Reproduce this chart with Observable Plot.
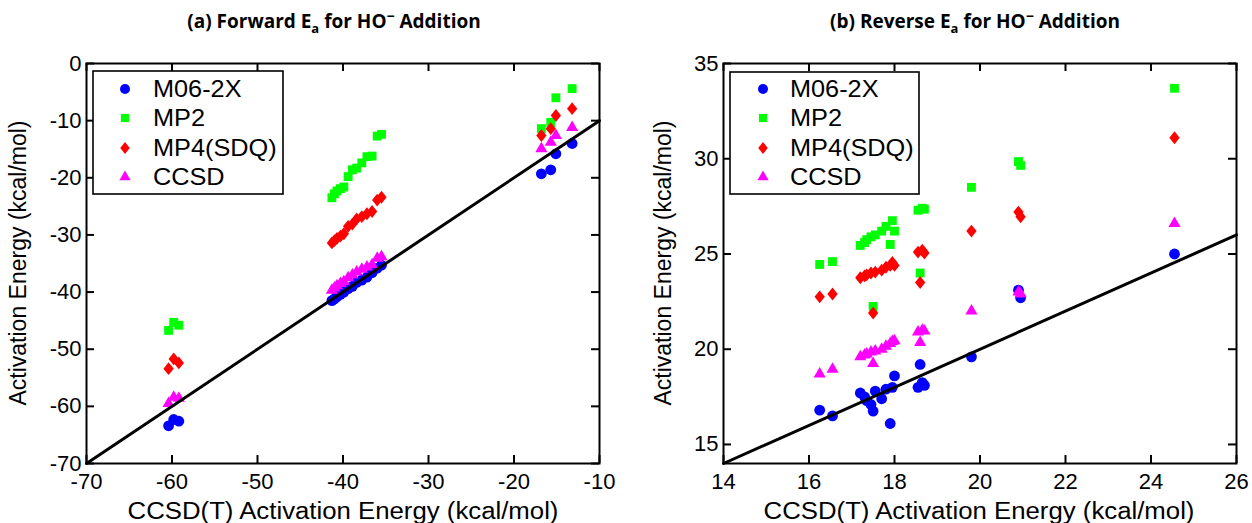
<!DOCTYPE html>
<html><head><meta charset="utf-8">
<script src="https://cdn.jsdelivr.net/npm/d3@7"></script>
<script src="https://cdn.jsdelivr.net/npm/@observablehq/plot@0.6"></script>
<style>
body{margin:0;background:#fff;}
#wrap{position:relative;width:1252px;height:523px;overflow:hidden;background:#fff;}
.panel{position:absolute;top:0;}
.title{position:absolute;top:12px;font-family:"Open Sans",sans-serif;font-weight:bold;font-size:19px;white-space:nowrap;transform:translateX(-50%);color:#000;line-height:1;}
.title sub{font-size:13px;vertical-align:-5px;line-height:0;}
.title sup{font-size:14px;vertical-align:7px;line-height:0;}
.axt{position:absolute;font-family:"Liberation Sans",Arial,sans-serif;font-size:23px;white-space:nowrap;color:#000;line-height:1;}
</style></head><body><div id="wrap"></div><script>
// ---------- data ----------
const methods = ["M06-2X", "MP2", "MP4(SDQ)", "CCSD"];
const colors = ["#0000ff", "#00ff00", "#ff0000", "#ff00ff"];

// (a) Forward Ea
const fwdX    = [-60.4,-59.8,-59.2, -41.3,-41.0,-40.7,-40.3,-39.9,-39.4,-38.9,-38.4,-37.8,-37.2,-36.6,-36.0,-35.5, -16.8,-15.7,-15.1,-13.2];
const fwdM06  = [-63.4,-62.3,-62.6, -41.5,-41.2,-40.8,-40.4,-40.0,-39.4,-39.0,-38.3,-37.9,-37.4,-36.6,-35.8,-35.3, -19.3,-18.6,-15.8,-14.0];
const fwdMP2  = [-46.7,-45.3,-45.8, -23.5,-22.8,-22.3,-21.9,-21.6,-19.8,-18.6,-18.3,-17.4,-16.3,-16.2,-12.7,-12.4, -11.4,-10.3,-6.0,-4.4];
const fwdMP4  = [-53.4,-51.7,-52.4, -31.4,-31.0,-30.6,-30.2,-29.8,-28.5,-28.1,-27.2,-26.8,-26.3,-25.9,-23.9,-23.4, -12.6,-11.4,-9.1,-7.9];
const fwdCCSD = [-59.5,-58.4,-58.6, -39.7,-39.3,-38.9,-38.5,-38.2,-37.5,-37.0,-36.5,-36.0,-35.6,-35.2,-34.1,-33.8, -14.9,-13.8,-12.6,-11.2];
const fwdTicksX = [-70,-60,-50,-40,-30,-20,-10];
const fwdTicksY = [-70,-60,-50,-40,-30,-20,-10,0];

// (b) Reverse Ea
const revX    = [16.25,16.55,17.2,17.3,17.35,17.45,17.5,17.55,17.7,17.8,17.9,17.95,18.0,18.55,18.6,18.65,18.7,19.8,20.9,20.95,24.55];
const revM06  = [16.8,16.5,17.7,17.5,17.3,17.1,16.75,17.8,17.4,17.9,16.1,18.0,18.6,18.0,19.2,18.25,18.1,19.6,23.1,22.7,25.0];
const revMP2  = [24.45,24.6,25.45,25.6,25.75,25.9,22.25,26.0,26.2,26.45,25.5,26.75,26.2,27.3,24.0,27.4,27.35,28.5,29.85,29.65,33.7];
const revMP4  = [22.75,22.9,23.75,23.85,23.9,24.0,21.9,24.05,24.15,24.3,24.4,24.55,24.4,25.1,23.5,25.2,25.05,26.2,27.2,26.95,31.1];
const revCCSD = [18.7,18.95,19.6,19.7,19.75,19.85,19.25,19.9,20.0,20.15,20.3,20.4,20.45,20.9,20.35,21.0,20.95,22.0,23.0,22.9,26.6];
const revTicksX = [14,16,18,20,22,24,26];
const revTicksY = [15,20,25,30,35];

const xTitle = "CCSD(T) Activation Energy (kcal/mol)";
const yTitle = "Activation Energy (kcal/mol)";

// ---------- symbols ----------
const diamondM = {draw(ctx, size) {
  const h = Math.sqrt(size / 1.6), w = h * 0.8;
  ctx.moveTo(0, -h); ctx.lineTo(w, 0); ctx.lineTo(0, h); ctx.lineTo(-w, 0); ctx.closePath();
}};
const symDefs = [
  {symbol: "circle", r: 5.4},
  {symbol: "square", r: 5.0},
  {symbol: diamondM, r: 4.6},
  {symbol: "triangle", r: 4.5}
];

const W = 626, H = 523, MT = 63, MB = 60;

function panel({X, Ys, xDomain, yDomain, ticksX, ticksY, mL, mR, legend}) {
  const fw = W - mL - mR, fh = H - MT - MB;
  const tlx = (xDomain[1] - xDomain[0]) * 8 / fw;
  const tly = (yDomain[1] - yDomain[0]) * 8 / fh;
  const diag = xDomain; // y = x reference line
  const marks = [];
  Ys.forEach((ys, k) => {
    const data = X.map((x, i) => ({x, y: ys[i]}));
    marks.push(Plot.dot(data, {x: "x", y: "y", symbol: symDefs[k].symbol, r: symDefs[k].r, fill: colors[k], stroke: "none"}));
  });
  marks.push(Plot.line(diag, {x: d => d, y: d => d, stroke: "black", strokeWidth: 3}));
  marks.push(Plot.ruleX(ticksX, {x: d => d, y1: yDomain[0], y2: yDomain[0] + tly, stroke: "black", strokeWidth: 2}));
  marks.push(Plot.ruleX(ticksX, {x: d => d, y1: yDomain[1], y2: yDomain[1] - tly, stroke: "black", strokeWidth: 2}));
  marks.push(Plot.ruleY(ticksY, {y: d => d, x1: xDomain[0], x2: xDomain[0] + tlx, stroke: "black", strokeWidth: 2}));
  marks.push(Plot.ruleY(ticksY, {y: d => d, x1: xDomain[1], x2: xDomain[1] - tlx, stroke: "black", strokeWidth: 2}));
  marks.push(Plot.axisX(ticksX, {anchor: "bottom", tickSize: 0, tickPadding: 10, tickFormat: d => String(d), label: null, fontSize: 22}));
  marks.push(Plot.axisY(ticksY, {anchor: "left", tickSize: 0, tickPadding: 5, tickFormat: d => String(d), label: null, fontSize: 22}));
  marks.push(Plot.frame({stroke: "black", strokeWidth: 2}));
  const svg = Plot.plot({
    width: W, height: H,
    marginLeft: mL, marginRight: mR, marginTop: MT, marginBottom: MB,
    x: {domain: xDomain, label: null},
    y: {domain: yDomain, label: null},
    style: {fontFamily: "'Liberation Sans', Arial, sans-serif", color: "black", background: "white", overflow: "visible"},
    marks
  });
  const s = d3.select(svg);
  const g = s.append("g").attr("text-anchor", "start");
  g.append("rect").attr("x", legend.x).attr("y", legend.y).attr("width", legend.w).attr("height", legend.h)
    .attr("fill", "white").attr("stroke", "black").attr("stroke-width", 1.6);
  methods.forEach((m, k) => {
    const cy = legend.rows[k];
    const sym = symDefs[k];
    const size = Math.PI * sym.r * sym.r * 0.85;
    const symObj = sym.symbol === "circle" ? d3.symbolCircle : sym.symbol === "square" ? d3.symbolSquare : sym.symbol === "triangle" ? d3.symbolTriangle : sym.symbol;
    g.append("path").attr("d", d3.symbol(symObj, size)()).attr("transform", `translate(${legend.sx},${cy})`).attr("fill", colors[k]);
    g.append("text").attr("transform", `translate(${legend.tx},${cy}) scale(1.1,1)`).attr("dy", "0.36em").attr("font-size", 23)
      .attr("text-anchor", "start").attr("font-family", "'Liberation Sans', Arial, sans-serif").attr("fill", "black").text(m);
  });
  return svg;
}

const wrap = document.getElementById("wrap");
const left = panel({X: fwdX, Ys: [fwdM06, fwdMP2, fwdMP4, fwdCCSD], xDomain: [-70, -10], yDomain: [-70, 0],
  ticksX: fwdTicksX, ticksY: fwdTicksY, mL: 86, mR: 27,
  legend: {x: 93, y: 71, w: 190, h: 123, sx: 125, tx: 153, rows: [89, 118, 148, 177]}});
const right = panel({X: revX, Ys: [revM06, revMP2, revMP4, revCCSD], xDomain: [14, 26], yDomain: [14, 35],
  ticksX: revTicksX, ticksY: revTicksY, mL: 97, mR: 16,
  legend: {x: 104, y: 72, w: 189, h: 122, sx: 137, tx: 164, rows: [89, 118, 148, 177]}});
left.classList.add("panel"); left.style.left = "0px";
right.classList.add("panel"); right.style.left = "626px";
wrap.appendChild(left); wrap.appendChild(right);

function addDiv(cls, html, css) {
  const d = document.createElement("div");
  d.className = cls; d.innerHTML = html; Object.assign(d.style, css); wrap.appendChild(d); return d;
}
addDiv("title", "(a) Forward E<sub>a</sub> for HO<sup>&minus;</sup> Addition", {left: "334px"});
addDiv("title", "(b) Reverse E<sub>a</sub> for HO<sup>&minus;</sup> Addition", {left: "975px"});
addDiv("axt", xTitle, {left: "343px", top: "511px", transform: "translate(-50%,-50%) scale(1.12,1)"});
addDiv("axt", xTitle, {left: "979px", top: "511px", transform: "translate(-50%,-50%) scale(1.12,1)"});
addDiv("axt", yTitle, {left: "18px", top: "263px", transform: "translate(-50%,-50%) rotate(-90deg)"});
addDiv("axt", yTitle, {left: "663px", top: "263px", transform: "translate(-50%,-50%) rotate(-90deg)"});
</script></body></html>
